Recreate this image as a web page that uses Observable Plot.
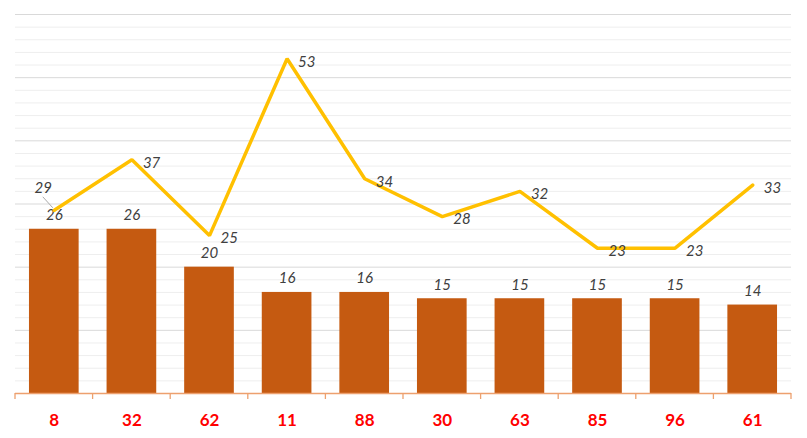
<!DOCTYPE html>
<html>
<head>
<meta charset="utf-8">
<script src="https://cdn.jsdelivr.net/npm/d3@7"></script>
<script src="https://cdn.jsdelivr.net/npm/@observablehq/plot@0.6"></script>
<style>
  html, body { margin: 0; padding: 0; background: #fff; }
  #chart svg { display: block; }
</style>
</head>
<body>
<div id="chart"></div>
<script>
const categories = ["8", "32", "62", "11", "88", "30", "63", "85", "96", "61"];
const barValues = [26, 26, 20, 16, 16, 15, 15, 15, 15, 14];
const lineValues = [29, 37, 25, 53, 34, 28, 32, 23, 23, 33];
const majorTicks = [10, 20, 30, 40, 50, 60];
const minorTicks = [2, 4, 6, 8, 12, 14, 16, 18, 22, 24, 26, 28, 32, 34, 36, 38, 42, 44, 46, 48, 52, 54, 56, 58];

const data = categories.map((c, i) => ({cat: c, bar: barValues[i], line: lineValues[i], i}));

const W = 807, H = 438;
const mL = 15, mR = 16, mT = 14, mB = 45;
const padInner = 0.36;

const boundaryTicks = (index, scales, values, dims) => {
  const x = scales.x;
  const step = x.step(), bw = x.bandwidth();
  const half = (step - bw) / 2;
  const g = d3.create("svg:g");
  const xs = categories.map(c => x(c) - half);
  xs.push(x(categories[categories.length - 1]) + bw + half);
  const y0 = dims.height - dims.marginBottom;
  g.append("line")
    .attr("x1", xs[0]).attr("x2", xs[xs.length - 1])
    .attr("y1", y0 + 0.5).attr("y2", y0 + 0.5)
    .attr("stroke", "#EDA06E").attr("stroke-width", 1.3);
  for (const xx of xs) {
    g.append("line")
      .attr("x1", xx).attr("x2", xx)
      .attr("y1", y0).attr("y2", y0 + 6)
      .attr("stroke", "#EDA06E").attr("stroke-width", 1.3);
  }
  return g.node();
};

const leader = (index, scales, values, dims) => {
  const d = data[0];
  const x = scales.x(d.cat) + scales.x.bandwidth() / 2;
  const y = scales.y(d.line);
  const g = d3.create("svg:g");
  g.append("line")
    .attr("x1", x - 1).attr("y1", y - 2)
    .attr("x2", x - 11).attr("y2", y - 13)
    .attr("stroke", "#aaaaaa").attr("stroke-width", 1);
  return g.node();
};

const chart = Plot.plot({
  width: W,
  height: H,
  marginLeft: mL,
  marginRight: mR,
  marginTop: mT,
  marginBottom: mB,
  style: {fontFamily: "Lato, sans-serif", background: "#fff"},
  x: {type: "band", domain: categories, paddingInner: padInner, paddingOuter: padInner / 2, round: false, axis: null},
  y: {domain: [0, 60], axis: null},
  marks: [
    Plot.ruleY(minorTicks, {stroke: "#eeeeee", strokeWidth: 1}),
    Plot.ruleY(majorTicks, {stroke: "#d9d9d9", strokeWidth: 1}),
    Plot.barY(data, {x: "cat", y: "bar", fill: "#C55A11"}),
    Plot.text(data, {x: "cat", y: "bar", text: d => String(d.bar), dy: -14, fill: "#404040", fontSize: 15, fontStyle: "italic"}),
    leader,
    Plot.lineY(data, {x: "cat", y: "line", stroke: "#FFC000", strokeWidth: 3.5, strokeLinejoin: "miter"}),
    Plot.text(data.filter(d => d.i === 0), {x: "cat", y: "line", text: d => String(d.line), dx: -11, dy: -22, fill: "#404040", fontSize: 15, fontStyle: "italic"}),
    Plot.text(data.filter(d => d.i !== 0), {x: "cat", y: "line", text: d => String(d.line), dx: 11, dy: 3, textAnchor: "start", fill: "#404040", fontSize: 15, fontStyle: "italic"}),
    boundaryTicks,
    Plot.axisX({domain: categories, tickSize: 0, tickPadding: 20, fill: "#FF0000", fontSize: 17, fontWeight: "bold", label: null})
  ]
});

document.getElementById("chart").appendChild(chart);
</script>
</body>
</html>
